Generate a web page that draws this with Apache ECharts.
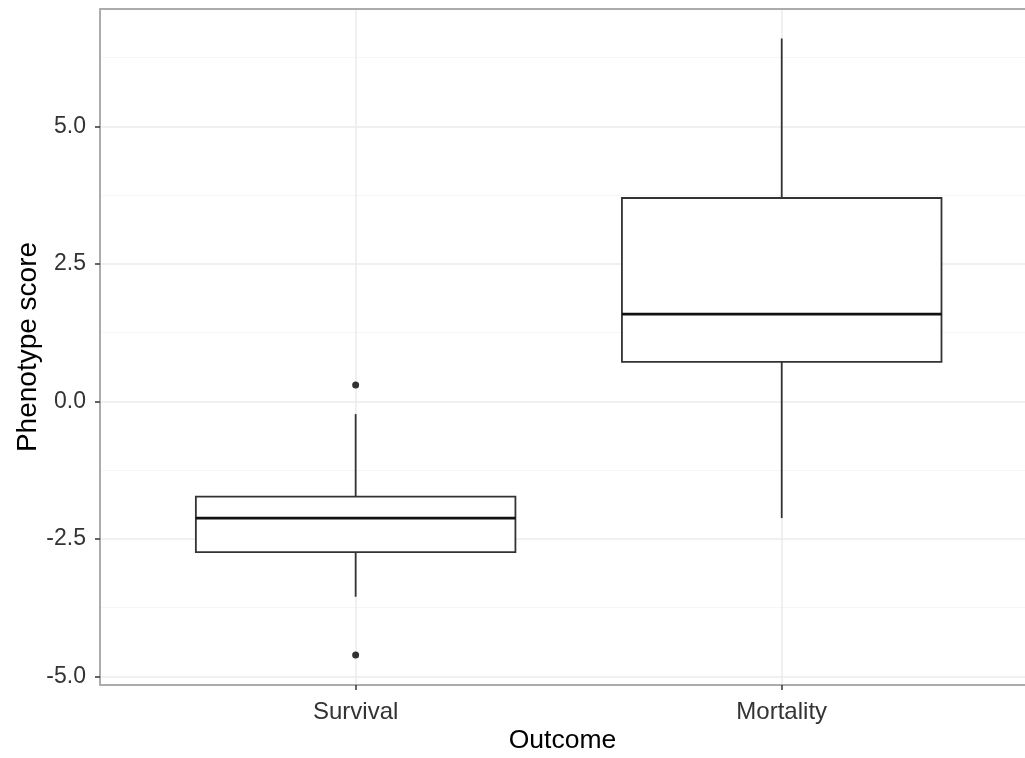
<!DOCTYPE html>
<html>
<head>
<meta charset="utf-8">
<script src="https://cdn.jsdelivr.net/npm/echarts@6/dist/echarts.min.js"></script>
<style>
html,body{margin:0;padding:0;background:#fff;}
#chart{width:1025px;height:758px;}
</style>
</head>
<body>
<div id="chart"></div>
<script>
// ---- data ----
const categories = ['Survival', 'Mortality'];
// [categoryPosition, lowerWhisker, Q1, median, Q3, upperWhisker]
const survivalBox = [1, -3.55, -2.74, -2.12, -1.73, -0.23];
const mortalityBox = [2, -2.12, 0.72, 1.59, 3.70, 6.60];
const outliers = [[1, 0.30], [1, -4.61]];
const yMajorTicks = [-5, -2.5, 0, 2.5, 5];
const yMinorTicks = [-3.75, -1.25, 1.25, 3.75, 6.25];
const xTicks = [1, 2];
const yTitle = 'Phenotype score';
const xTitle = 'Outcome';

const boxes = [survivalBox, mortalityBox];
const FONT = "'Liberation Sans', Arial, sans-serif";
const halfWidth = 0.375;
const X_MIN = 0.4, X_MAX = 2.571;   // panel is cut off at the right edge of the image
const Y_MIN = -5.155, Y_MAX = 7.136;
const BORDER = {color: '#acacac', width: 2};

const chart = echarts.init(document.getElementById('chart'), null, {renderer: 'canvas'});

function renderBox(params, api) {
  const x = api.value(0);
  const lo = api.value(1), q1 = api.value(2), med = api.value(3), q3 = api.value(4), hi = api.value(5);
  const pHi = api.coord([x, hi]);
  const pQ3 = api.coord([x, q3]);
  const pQ1 = api.coord([x, q1]);
  const pLo = api.coord([x, lo]);
  const tl = api.coord([x - halfWidth, q3]);
  const br = api.coord([x + halfWidth, q1]);
  const mL = api.coord([x - halfWidth, med]);
  const mR = api.coord([x + halfWidth, med]);
  const stroke = '#333333';
  return {
    type: 'group',
    children: [
      {type: 'line', shape: {x1: pHi[0], y1: pHi[1], x2: pQ3[0], y2: pQ3[1]}, style: {stroke: stroke, lineWidth: 1.8}},
      {type: 'line', shape: {x1: pQ1[0], y1: pQ1[1], x2: pLo[0], y2: pLo[1]}, style: {stroke: stroke, lineWidth: 1.8}},
      {type: 'rect', shape: {x: tl[0], y: tl[1], width: br[0] - tl[0], height: br[1] - tl[1]}, style: {fill: '#ffffff', stroke: stroke, lineWidth: 1.8}},
      {type: 'line', shape: {x1: mL[0], y1: mL[1], x2: mR[0], y2: mR[1]}, style: {stroke: '#111111', lineWidth: 2.8}}
    ]
  };
}

const option = {
  animation: false,
  backgroundColor: '#ffffff',
  grid: {
    left: 100, right: 0, top: 9, bottom: 73,
    show: false, containLabel: false, outerBoundsMode: 'none'
  },
  xAxis: [{
    type: 'value', min: X_MIN, max: X_MAX, position: 'bottom',
    name: xTitle, nameLocation: 'middle', nameGap: 42, nameMoveOverlap: false,
    nameTextStyle: {fontFamily: FONT, fontSize: 26.5, color: '#000'},
    axisLine: {show: true, onZero: false, lineStyle: BORDER},
    axisTick: {show: true, length: 5, customValues: xTicks, lineStyle: {color: '#333', width: 1.5}},
    axisLabel: {
      show: true, customValues: xTicks, margin: 15,
      fontFamily: FONT, fontSize: 24, color: '#333333',
      formatter: function (v) { return categories[Math.round(v) - 1] || ''; }
    },
    splitLine: {show: true, lineStyle: {color: '#ebebeb', width: 1.5}}
  }, {
    type: 'value', min: X_MIN, max: X_MAX, position: 'top',
    axisLine: {show: true, onZero: false, lineStyle: BORDER},
    axisTick: {show: false},
    axisLabel: {show: false},
    splitLine: {show: false}
  }],
  yAxis: [{
    type: 'value', min: Y_MIN, max: Y_MAX, position: 'left',
    name: yTitle, nameLocation: 'middle', nameGap: 58, nameRotate: 90, nameMoveOverlap: false,
    nameTextStyle: {fontFamily: FONT, fontSize: 28, color: '#000'},
    axisLine: {show: true, onZero: false, lineStyle: BORDER},
    axisTick: {show: true, length: 5, customValues: yMajorTicks, lineStyle: {color: '#333', width: 1.5}},
    axisLabel: {
      show: true, customValues: yMajorTicks, margin: 14,
      fontFamily: FONT, fontSize: 23, color: '#333333',
      formatter: function (v) { return v.toFixed(1); }
    },
    splitLine: {show: true, lineStyle: {color: '#ebebeb', width: 1.5}}
  }, {
    type: 'value', min: Y_MIN, max: Y_MAX, position: 'left',
    axisLine: {show: false, onZero: false},
    axisTick: {show: false, customValues: yMinorTicks},
    axisLabel: {show: false},
    splitLine: {show: true, lineStyle: {color: '#f6f6f6', width: 1.2}}
  }],
  series: [{
    type: 'custom',
    renderItem: renderBox,
    encode: {x: 0, y: [1, 2, 3, 4, 5]},
    data: boxes,
    z: 3
  }, {
    type: 'scatter',
    data: outliers,
    symbol: 'circle',
    symbolSize: 7,
    itemStyle: {color: '#000000'},
    z: 4
  }]
};
chart.setOption(option);
</script>
</body>
</html>
